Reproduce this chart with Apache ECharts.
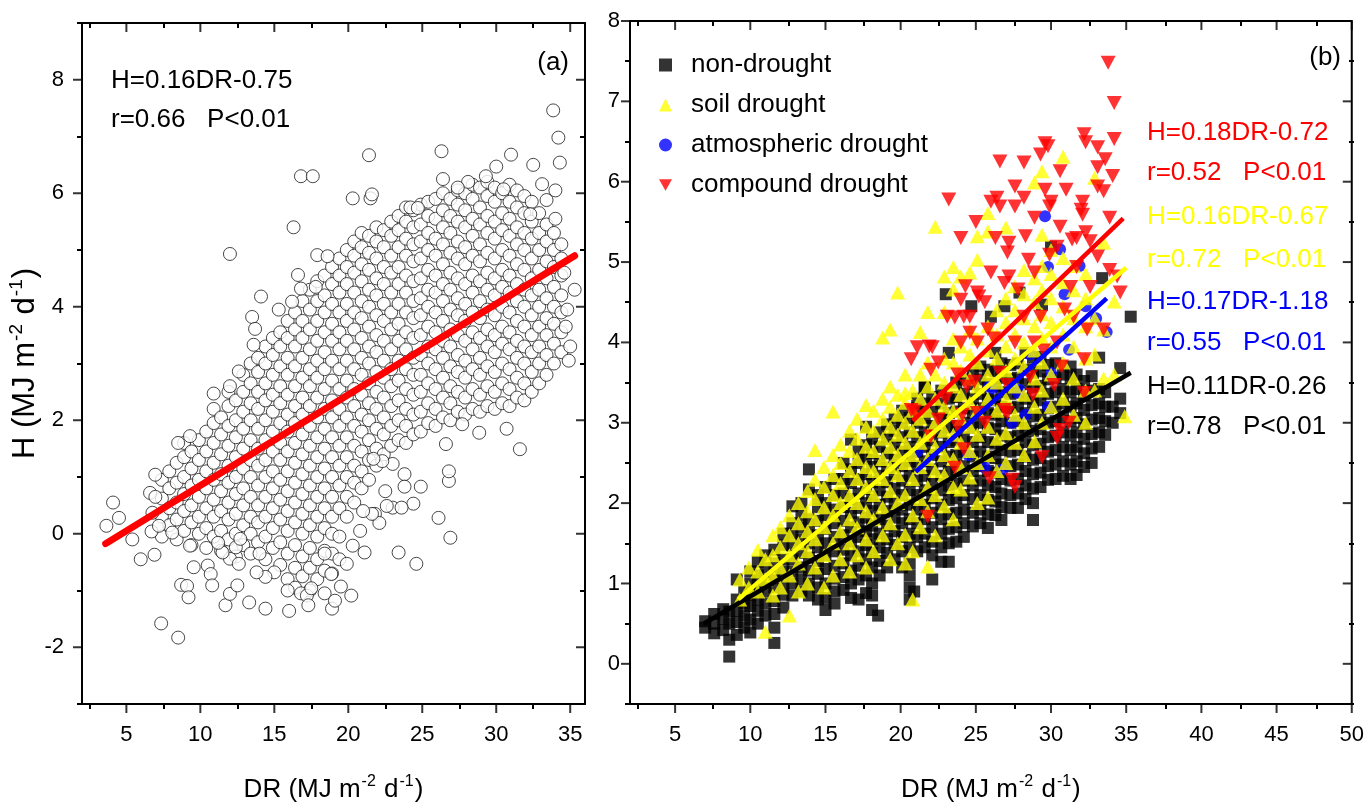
<!DOCTYPE html>
<html><head><meta charset="utf-8">
<script src="https://cdn.jsdelivr.net/npm/echarts@6/dist/echarts.min.js"></script>
<style>html,body{margin:0;padding:0;background:#fff}#c{width:1367px;height:809px}</style>
</head><body><div id="c"></div>
<script>
// ---------- Panel (a): all samples; each row = [DR, H, H, ...] ----------
const leftCols = [
[7.4,-0.05,0.3,0.62,0.95],
[7.9,0.15,0.45,0.8,1.1],
[8.4,-0.1,0.25,0.55,0.9,1.25],
[8.9,0.05,0.4,0.7,1.0,1.35,1.6],
[9.4,-0.2,0.2,0.5,0.85,1.15,1.45],
[9.9,0.0,0.3,0.65,0.95,1.3,1.65],
[10.4,-0.25,0.1,0.45,0.8,1.1,1.45,1.8],
[10.9,-0.05,0.3,0.6,0.95,1.25,1.6,1.95,2.2],
[11.4,-0.3,0.05,0.4,0.75,1.05,1.4,1.75,2.05],
[11.9,-0.1,0.25,0.55,0.9,1.2,1.55,1.9,2.25,2.5],
[12.4,-0.4,0.0,0.35,0.7,1.0,1.35,1.7,2.0,2.35],
[12.9,-0.2,0.15,0.5,0.8,1.15,1.5,1.85,2.15,2.5,2.8],
[13.4,-0.35,0.0,0.3,0.65,1.0,1.3,1.65,2.0,2.3,2.65,3.0],
[13.9,-0.15,0.2,0.5,0.85,1.2,1.5,1.85,2.2,2.5,2.85,3.1],
[14.4,-0.45,-0.05,0.3,0.65,1.0,1.3,1.65,2.0,2.35,2.65,3.0,3.3],
[14.9,-0.25,0.1,0.45,0.8,1.1,1.45,1.8,2.15,2.45,2.8,3.15,3.45],
[15.4,-0.55,-0.15,0.25,0.6,0.95,1.3,1.6,1.95,2.3,2.6,2.95,3.3,3.55],
[15.9,-0.8,-0.35,0.05,0.4,0.75,1.1,1.45,1.8,2.1,2.45,2.8,3.1,3.45,3.75],
[16.4,-0.95,-0.6,-0.2,0.2,0.55,0.9,1.25,1.6,1.95,2.25,2.6,2.95,3.3,3.6,3.9],
[16.9,-0.75,-0.4,0.0,0.35,0.7,1.05,1.4,1.75,2.1,2.4,2.75,3.1,3.45,3.75,4.1],
[17.4,-1.0,-0.6,-0.25,0.15,0.5,0.85,1.2,1.55,1.9,2.25,2.6,2.9,3.25,3.6,3.95,4.3],
[17.9,-0.8,-0.45,-0.05,0.3,0.65,1.0,1.35,1.7,2.05,2.4,2.75,3.05,3.4,3.75,4.1,4.45],
[18.4,-1.05,-0.65,-0.3,0.1,0.45,0.8,1.15,1.5,1.85,2.2,2.55,2.9,3.2,3.55,3.9,4.2,4.55],
[18.9,-0.7,-0.35,0.0,0.3,0.65,1.0,1.35,1.7,2.05,2.35,2.7,3.05,3.4,3.7,4.05,4.4,4.7],
[19.4,-0.45,-0.05,0.45,0.85,1.2,1.55,1.9,2.2,2.55,2.9,3.25,3.55,3.9,4.25,4.55,4.85],
[19.9,0.3,0.65,1.0,1.35,1.7,2.05,2.4,2.7,3.05,3.4,3.75,4.05,4.4,4.7,5.0],
[20.4,0.55,0.9,1.2,1.55,1.9,2.25,2.55,2.9,3.25,3.6,3.9,4.25,4.6,4.9,5.15],
[20.9,0.8,1.1,1.45,1.8,2.1,2.45,2.8,3.1,3.45,3.8,4.1,4.45,4.75,5.05,5.3],
[21.4,0.95,1.3,1.65,2.0,2.3,2.65,3.0,3.3,3.65,4.0,4.3,4.65,4.95,5.25],
[21.9,1.2,1.5,1.85,2.2,2.5,2.85,3.2,3.5,3.85,4.2,4.5,4.85,5.15,5.4],
[22.4,1.4,1.75,2.05,2.4,2.75,3.05,3.4,3.75,4.05,4.4,4.7,5.05,5.35],
[22.9,1.55,1.9,2.25,2.6,2.9,3.25,3.6,3.9,4.25,4.6,4.9,5.25,5.5],
[23.4,1.65,2.0,2.35,2.7,3.05,3.4,3.7,4.05,4.4,4.7,5.05,5.35,5.6],
[23.9,1.6,1.9,2.2,2.55,2.9,3.25,3.55,3.9,4.25,4.55,4.9,5.2,5.5,5.75],
[24.4,1.75,2.1,2.45,2.8,3.1,3.45,3.8,4.1,4.45,4.8,5.1,5.4,5.7],
[24.9,1.8,2.15,2.5,2.8,3.15,3.5,3.85,4.15,4.5,4.85,5.15,5.45,5.8],
[25.4,1.95,2.3,2.65,3.0,3.3,3.65,4.0,4.3,4.65,5.0,5.3,5.6,5.85],
[25.9,1.9,2.2,2.55,2.9,3.25,3.55,3.9,4.25,4.55,4.9,5.2,5.55,5.9],
[26.4,2.05,2.4,2.75,3.1,3.4,3.75,4.1,4.4,4.75,5.1,5.4,5.7,6.0],
[26.9,2.0,2.3,2.6,2.95,3.3,3.6,3.95,4.3,4.6,4.95,5.3,5.6,5.9],
[27.4,2.15,2.5,2.85,3.15,3.5,3.85,4.15,4.5,4.85,5.15,5.5,5.8,6.05],
[27.9,2.1,2.4,2.75,3.05,3.4,3.75,4.05,4.4,4.75,5.05,5.4,5.7,6.0],
[28.4,2.2,2.55,2.9,3.25,3.55,3.9,4.25,4.55,4.9,5.25,5.55,5.9,6.15],
[28.9,2.15,2.45,2.8,3.1,3.45,3.8,4.1,4.45,4.8,5.1,5.45,5.75,6.1],
[29.4,2.25,2.6,2.95,3.3,3.6,3.95,4.3,4.6,4.95,5.3,5.6,5.95,6.2],
[29.9,2.2,2.5,2.85,3.2,3.5,3.85,4.2,4.5,4.85,5.2,5.5,5.85,6.1],
[30.4,2.3,2.65,3.0,3.35,3.65,4.0,4.35,4.65,5.0,5.35,5.65,6.0],
[30.9,2.25,2.55,2.9,3.25,3.55,3.9,4.25,4.55,4.9,5.25,5.55,5.85,6.15],
[31.4,2.4,2.75,3.1,3.4,3.75,4.1,4.4,4.75,5.1,5.4,5.75,6.05],
[31.9,2.35,2.65,3.0,3.3,3.65,4.0,4.3,4.65,5.0,5.3,5.65,5.95],
[32.4,2.5,2.85,3.2,3.5,3.85,4.2,4.5,4.85,5.2,5.5,5.85],
[32.9,2.65,3.0,3.3,3.65,4.0,4.3,4.65,5.0,5.3,5.65],
[33.4,2.8,3.15,3.5,3.8,4.15,4.5,4.8,5.15,5.45],
[33.9,3.0,3.35,3.7,4.0,4.35,4.7,5.0,5.3],
[34.4,3.2,3.55,3.9,4.2,4.55,4.85,5.1]
];
const leftExtra = [
[3.65,0.14],[4.1,0.55],[4.5,0.28],[5.4,-0.1],[5.97,-0.45],[6.9,-0.37],[6.95,1.04],[6.6,0.72],[6.96,0.65],[6.76,0.37],[6.7,0.04],[7.2,0.14],
[8.1,0.02],[8.5,1.6],[9.3,1.72],[9.3,-0.21],[7.35,-1.58],[8.5,-1.83],[8.7,-0.9],[9.1,-0.92],[9.2,-1.12],[9.55,-0.59],[10.5,-0.56],[10.7,-0.71],
[10.8,-0.91],[11.7,-1.26],[12.0,-1.06],[12.5,-0.91],[13.3,-1.21],[14.4,-1.32],[15.0,-0.68],[14.4,-0.76],[13.8,-0.68],[16.0,-1.36],[15.9,-1.0],
[16.8,-1.05],[17.2,-1.09],[17.5,-0.96],[17.3,-1.26],[18.9,-1.32],[19.1,-1.18],[19.5,-0.93],[20.2,-1.09],[19.9,-0.53],[20.8,0.05],[20.3,-0.21],
[21.1,-0.33],[18.85,-0.71],[18.4,-0.35],[23.4,-0.33],[24.6,-0.53],[26.1,0.28],[26.9,-0.07],[26.8,0.93],[26.8,1.1],[24.9,0.83],[24.4,0.53],
[28.85,1.78],[30.7,1.85],[31.6,1.49],[26.6,1.58],[21.8,0.35],[22.1,0.19],[22.5,0.75],[23.0,0.46],[23.8,1.05],[23.8,0.83],[23.6,0.46],[23.0,1.23],
[22.3,1.28],[21.7,1.32],[21.6,0.35],[22.6,0.49],[21.0,0.4],[27.7,1.93],[12.0,-0.44],[12.4,-0.24],[11.5,-0.33],[11.2,-0.16],[12.6,-0.53],[14.0,-0.35],
[12.7,-0.09],[33.85,7.46],[34.2,6.98],[34.3,6.54],[21.4,6.67],[26.3,6.74],[16.8,6.3],[17.6,6.3],[20.3,5.91],[21.5,5.91],[21.6,5.98],[16.3,5.4],
[12.0,4.93],[14.1,4.18],[15.3,3.95],[13.5,3.82],[13.7,3.61],[13.6,3.33],[12.6,2.86],[10.9,2.47],[12.0,2.6],[16.6,4.56],[17.9,4.91],[18.6,4.89],
[17.8,4.35],[16.2,4.09],[16.8,4.32],[31.0,6.68],[32.5,6.5],[30.0,6.47],[35.3,4.3],[34.7,3.65],[34.9,3.05],[34.0,6.05],[34.0,5.55],[29.3,6.3],
[28.1,6.2],[27.4,6.1],[26.4,6.25],[33.1,6.16],[33.4,5.88],[32.3,5.63],[24.2,5.75],[24.7,5.74],[30.5,6.07],[34.6,4.6],[34.8,3.95],[35.0,3.3]
];
const fitAll = {slope: 0.16, intercept: -0.75, from: 3.6, to: 35.3};

// ---------- Panel (b) ----------
const nonDroughtCols = [
[7.0,0.45,0.53],[7.6,0.38,0.5,0.62],[8.2,0.42,0.56,0.68],[8.6,0.09,0.3,0.5,0.65],[9.1,0.36,0.52,0.66,0.8,1.05],
[9.6,0.45,0.6,0.75,0.9],[10.0,0.39,0.55,0.72,0.86,1.0,1.15],[10.5,0.5,0.66,0.8,0.95,1.1,1.27],[11.0,0.6,0.75,0.9,1.05,1.2,1.35],
[11.6,0.26,0.45,0.62,0.78,0.95,1.1,1.25,1.42],[12.2,0.7,0.86,1.0,1.15,1.3,1.48,1.62],[12.8,0.85,1.0,1.15,1.3,1.47,1.62,1.75,1.96],
[13.4,0.9,1.05,1.2,1.38,1.55,1.7,1.85,2.0],[13.9,0.85,1.0,1.16,1.32,1.5,1.65,1.8,2.17,2.42],[14.5,0.8,0.95,1.12,1.28,1.45,1.6,1.78,1.95,2.1],
[15.0,0.67,0.82,1.0,1.18,1.35,1.5,1.68,1.85,2.0,2.2],[15.6,0.75,0.9,1.06,1.22,1.4,1.58,1.75,1.92,2.1,2.3],
[16.2,0.92,1.08,1.25,1.42,1.6,1.78,1.95,2.12,2.3,2.5],[16.7,0.82,1.0,1.16,1.35,1.52,1.7,1.88,2.05,2.25,2.42,2.79],
[17.2,0.8,1.05,1.22,1.4,1.58,1.76,1.94,2.12,2.3,2.5,2.65],[17.7,0.88,1.1,1.3,1.48,1.65,1.82,2.0,2.18,2.36,2.55,2.72,2.95],
[18.1,0.67,0.85,1.0,1.2,1.38,1.55,1.72,1.9,2.08,2.26,2.45,2.62,2.8],[18.6,1.1,1.28,1.45,1.62,1.8,1.98,2.16,2.34,2.52,2.7,2.88],
[19.1,1.2,1.38,1.55,1.72,1.9,2.08,2.26,2.44,2.62,2.8,2.98],[19.6,1.3,1.48,1.65,1.82,2.0,2.18,2.36,2.54,2.72,2.9,3.05],
[20.1,1.2,1.4,1.58,1.75,1.92,2.1,2.28,2.46,2.64,2.82,3.0,3.15],[20.6,0.8,0.95,1.1,1.25,1.45,1.62,1.8,1.98,2.16,2.34,2.52,2.7,2.88,3.06],
[21.1,1.4,1.58,1.75,1.92,2.1,2.28,2.46,2.64,2.82,3.0,3.18,3.3],[21.6,1.45,1.62,1.8,1.98,2.16,2.34,2.52,2.7,2.88,3.06,3.24,3.44],
[22.1,1.05,1.35,1.52,1.7,1.88,2.06,2.24,2.42,2.6,2.78,2.96,3.14,3.32],[22.7,1.27,1.45,1.62,1.8,1.98,2.16,2.34,2.52,2.7,2.88,3.06,3.24,3.4],
[23.2,1.27,1.5,1.68,1.86,2.04,2.22,2.4,2.58,2.76,2.94,3.12,3.3,3.87],[23.7,1.52,1.7,1.88,2.06,2.24,2.42,2.6,2.78,2.96,3.14,3.32,3.5],
[24.2,1.58,1.75,1.92,2.1,2.28,2.46,2.64,2.82,3.0,3.18,3.36,3.54],[24.8,1.71,1.88,2.05,2.22,2.4,2.58,2.76,2.94,3.12,3.3,3.48,3.62],
[25.3,1.75,1.92,2.1,2.28,2.46,2.64,2.82,3.0,3.18,3.36,3.54,3.7],[25.8,1.69,1.86,2.04,2.22,2.4,2.58,2.76,2.94,3.12,3.3,3.48,3.66],
[26.3,1.85,2.02,2.2,2.38,2.56,2.74,2.92,3.1,3.28,3.46,3.64,3.87],[26.7,1.79,1.95,2.12,2.3,2.48,2.66,2.84,3.02,3.2,3.38,3.56,3.74],
[27.3,1.94,2.1,2.28,2.46,2.64,2.82,3.0,3.18,3.36,3.54,3.72],[27.8,1.94,2.12,2.3,2.48,2.66,2.84,3.02,3.2,3.38,3.56,3.74],
[28.3,2.05,2.22,2.4,2.58,2.76,2.94,3.12,3.3,3.48,3.66,3.87],[28.8,1.79,2.0,2.18,2.36,2.54,2.72,2.9,3.08,3.26,3.44,3.62,3.81],
[29.3,2.2,2.38,2.56,2.74,2.92,3.1,3.28,3.46,3.64,3.82],[29.8,2.29,2.46,2.64,2.82,3.0,3.18,3.36,3.54,3.72],
[30.3,2.3,2.48,2.66,2.84,3.02,3.2,3.38,3.56,3.74],[30.8,2.34,2.52,2.7,2.88,3.06,3.24,3.42,3.6],
[31.3,2.3,2.48,2.66,2.84,3.02,3.2,3.38,3.56,3.7],[31.7,2.35,2.52,2.7,2.88,3.06,3.24,3.42,3.6],
[32.2,2.45,2.62,2.8,2.98,3.16,3.34,3.52],[32.7,2.5,2.68,2.86,3.04,3.22,3.4,3.58],
[33.2,2.7,2.88,3.06,3.24,3.42,3.81],[33.6,2.85,3.02,3.2,3.38],[34.1,3.0,3.2],[34.6,3.12,3.3,3.68]
];
const nonDroughtExtra = [[35.3,4.32],[33.4,4.8],[30.0,5.19],[29.4,4.47],[26.9,4.45],[26.0,4.32],[27.9,4.62],[21.6,3.44],[18.5,0.6],[20.9,0.9],[24.7,4.45],[23.0,4.6]];

const soilCols = [
[9.3,0.8,1.05],[9.9,0.95,1.2],[10.5,0.9,1.15,1.42],[11.0,0.4,1.05,1.3],[11.5,0.85,1.1,1.35,1.6],[12.0,0.95,1.2,1.45,1.7],
[12.6,0.6,1.1,1.35,1.6,1.85],[13.2,0.9,1.25,1.5,1.75,2.0],[13.8,1.0,1.4,1.65,1.9,2.15],[14.3,1.2,1.55,1.8,2.05,2.29,2.66],
[14.9,0.95,1.35,1.7,1.95,2.2,2.45],[15.5,1.1,1.5,1.85,2.1,2.35,2.6,3.14],[16.0,1.3,1.65,2.0,2.25,2.5,2.73],
[16.6,1.15,1.5,1.8,2.1,2.4,2.65,2.9],[17.1,1.35,1.7,2.0,2.3,2.55,2.8,3.05],[17.7,1.2,1.55,1.9,2.2,2.45,2.7,2.95,3.22],
[18.2,1.4,1.8,2.1,2.4,2.65,2.9,3.15],[18.8,1.6,1.95,2.3,2.55,2.8,3.05,3.3,4.06],[19.3,1.3,1.75,2.15,2.45,2.7,2.95,3.2,3.45,4.16],
[19.8,1.5,2.0,2.35,2.6,2.85,3.1,3.35,4.62],[20.3,1.25,1.61,2.1,2.5,2.75,3.0,3.25,3.37,3.6],[20.8,0.8,1.4,1.85,2.3,2.6,2.9,3.15,3.4],
[21.3,1.7,2.05,2.45,2.75,3.05,3.3,3.6,4.13],[21.8,1.21,1.9,2.2,2.55,2.85,3.15,3.45,3.75,4.38],[22.3,1.6,2.1,2.4,2.7,3.0,3.3,3.6,5.44],
[22.9,1.96,2.35,2.6,2.9,3.2,3.5,3.8,4.38,4.82],[23.5,1.8,2.2,2.55,2.85,3.15,3.45,3.75,4.05,4.66,4.94],
[24.0,2.17,2.45,2.75,3.05,3.35,3.65,3.95,4.82],[24.6,2.32,2.65,2.95,3.25,3.55,3.85,4.15,4.87],
[25.1,2.0,2.5,2.85,3.15,3.45,3.75,4.05,5.03,5.32],[25.8,2.07,2.6,2.95,3.3,3.6,3.9,4.2,5.38,5.61],[26.4,2.4,2.8,3.15,3.5,3.8,4.1,4.4],
[27.0,2.5,2.87,3.3,3.65,3.95,4.25,4.55,5.43],[27.6,2.75,3.1,3.45,3.8,4.1,4.4,4.7],[28.2,2.6,3.0,3.35,3.7,4.0,4.3,4.6,4.9],
[28.9,2.77,3.2,3.55,3.9,4.2,4.5,4.8,5.99],[29.4,3.0,3.4,3.75,4.05,4.35,4.65,4.95,5.34,6.13],[30.0,3.2,3.6,3.95,4.25,4.55,4.85,5.15],
[30.8,3.3,3.75,4.1,4.45,4.75,5.05,6.31],[31.5,3.1,3.55,3.95,4.3,4.65,4.95],[32.3,3.0,3.4,3.8,4.2,4.55,4.85],
[32.9,3.4,3.85,4.3,6.05],[33.5,3.55,4.16,5.24],[34.2,3.6,4.51],[34.9,3.08]
];

const atmPoints = [[29.6,5.57],[30.6,5.16],[29.8,4.94],[30.9,4.6],[32.3,4.45],[31.2,3.91],[33.7,4.13],[30.0,3.62],[27.9,3.41],[26.1,3.43],
[27.8,3.37],[29.8,3.2],[25.9,3.45],[25.6,2.44],[26.8,2.42],[21.1,2.64],[27.4,3.0],[28.6,3.85],[31.9,4.95],[33.0,4.3],[28.3,3.1],[24.5,2.6]];

const compoundPoints = [
[33.8,7.48],[34.2,6.98],[34.2,6.53],[26.6,6.25],[28.2,6.24],[29.3,6.34],[29.8,6.44],[29.6,6.48],[32.3,6.49],[33.1,6.43],[32.2,6.59],
[30.6,6.13],[33.1,6.18],[34.1,6.07],[33.5,5.88],[29.6,5.9],[26.4,5.8],[26.6,5.69],[26.0,5.75],[27.6,5.69],[28.2,5.8],[30.0,5.75],
[32.1,5.75],[32.0,5.65],[33.9,5.55],[24.0,5.3],[27.2,5.24],[27.1,5.12],[28.3,5.32],[30.6,5.44],[31.7,5.3],[32.6,5.26],[33.1,5.07],
[28.9,4.87],[26.9,4.74],[27.8,4.66],[24.3,4.7],[24.0,4.53],[24.6,4.32],[23.6,4.31],[25.8,4.16],[25.1,4.0],[22.1,3.94],[20.7,3.79],
[22.5,3.75],[23.8,3.6],[24.9,3.51],[34.6,4.62],[30.9,4.41],[31.5,4.32],[29.3,4.32],[32.4,4.16],[32.2,3.79],[30.7,3.7],[28.6,3.57],
[21.8,1.83],[23.6,2.44],[25.9,2.31],[27.6,2.2],[29.4,2.57],[30.4,2.81],[31.2,3.0],[23.8,2.95],[26.9,3.16],[28.8,3.35],[32.2,3.37],
[22.5,3.04],[24.1,3.1],[25.6,3.0],[27.1,3.12],[20.9,3.14],[24.2,4.32],[25.2,4.57],[27.2,4.82],[28.5,5.03],[30.4,5.19],[31.4,5.28],
[32.3,5.37],[29.9,5.69],[33.1,5.94],[33.6,6.28],[27.6,5.94],[23.2,5.78],[24.6,4.12],[21.9,3.95],[23.1,4.32],[24.0,4.0],[26.6,3.62],
[27.6,4.0],[33.5,4.16],[29.9,5.09],[31.7,4.94],[28.2,4.32],[26.0,4.87],[25.1,4.62],[21.1,3.94],[22.0,3.66],[28.9,4.0],[30.4,4.0],
[31.3,4.69],[32.6,4.69],[34.4,4.82],[32.1,5.59],[28.9,5.55],[25.6,4.5],[20.7,3.16],[22.0,2.83],[24.2,2.67],[27.4,2.29],[30.6,2.91],
[25.1,3.12],[24.4,3.45],[27.1,3.47],[30.2,3.47],[26.2,4.05],[29.5,3.9],[23.0,3.3],[26.3,5.3],[25.0,5.5],[31.0,5.9],[33.9,4.9]
];

const fits = [
  {name: 'fit-non',  color: '#000000', slope: 0.11, intercept: -0.26, from: 6.9,  to: 35.3},
  {name: 'fit-soil', color: '#ffff00', slope: 0.16, intercept: -0.67, from: 9.2,  to: 35.0},
  {name: 'fit-atm',  color: '#0000ff', slope: 0.17, intercept: -1.18, from: 21.0, to: 33.7},
  {name: 'fit-comp', color: '#ff0000', slope: 0.18, intercept: -0.72, from: 20.8, to: 34.8}
];

// tick labels / tick positions
const aXMajor = [5,10,15,20,25,30,35];
const aXMinor = [2.5,7.5,12.5,17.5,22.5,27.5,32.5];
const aYMajor = [-2,0,2,4,6,8];
const aYMinor = [-3,-1,1,3,5,7,9];
const bXMajor = [5,10,15,20,25,30,35,40,45,50];
const bXMinor = [2.5,7.5,12.5,17.5,22.5,27.5,32.5,37.5,42.5,47.5];
const bYMajor = [0,1,2,3,4,5,6,7,8];
const bYMinor = [-0.5,0.5,1.5,2.5,3.5,4.5,5.5,6.5,7.5];

// ---------- layout ----------
const PA = {left: 82, top: 23, width: 503, height: 681, x: [2, 36], y: [-3, 9]};
const PB = {left: 630, top: 21, width: 724, height: 683, x: [2, 50], y: [-0.5, 8]};
const rect = (P) => ({left: P.left, top: P.top, width: P.width, height: P.height});

// ---------- build ----------
const FONT = '"Liberation Sans", Arial, Helvetica, sans-serif';
function fromCols(cols) { const out = []; cols.forEach(c => { for (let i = 1; i < c.length; i++) out.push([c[0], c[i]]); }); return out; }
function fitLine(f) { return [[f.from, f.slope * f.from + f.intercept], [f.to, f.slope * f.to + f.intercept]]; }

const xAxes = [], yAxes = [];
const base = (g, min, max) => ({type: 'value', gridIndex: g, min: min, max: max, splitLine: {show: false}, minorTick: {show: false}});
function labelAxis(dim, g, min, max, vals, margin, nameCfg) {
  const arr = dim === 'x' ? xAxes : yAxes;
  arr.push(Object.assign(base(g, min, max), nameCfg || {}, {position: dim === 'x' ? 'bottom' : 'left',
    axisLine: {show: false, onZero: false}, axisTick: {show: false},
    axisLabel: {show: true, customValues: vals, color: '#000', fontSize: 22, fontFamily: FONT, margin: margin}}));
  return arr.length - 1;
}
// minor tick-only axes (twin grids): outward on bottom/left, inward on top/right
function minorAxes(dim, g, P, vals) {
  const arr = dim === 'x' ? xAxes : yAxes;
  const r = dim === 'x' ? P.x : P.y;
  const tk = (inside) => ({show: true, inside: inside, customValues: vals, length: 5, lineStyle: {color: '#000', width: 2}});
  arr.push(Object.assign(base(g, r[0], r[1]), {position: dim === 'x' ? 'bottom' : 'left', axisLine: {show: false, onZero: false}, axisTick: tk(false), axisLabel: {show: false}}));
  arr.push(Object.assign(base(g, r[0], r[1]), {position: dim === 'x' ? 'top' : 'right', axisLine: {show: false, onZero: false}, axisTick: tk(true), axisLabel: {show: false}}));
}
const unitName = (v) => '{a|' + v + ' (MJ m}{s|-2}{a| d}{s|-1}{a|)}';
const nameStyleX = {rich: {a: {fontSize: 26, fontFamily: FONT, color: '#000', lineHeight: 32},
                           s: {fontSize: 16, fontFamily: FONT, color: '#000', verticalAlign: 'top', lineHeight: 32, padding: [0, 1, 0, 1]}}};
const nameStyleY = {rich: {a: {fontSize: 31, fontFamily: FONT, color: '#000', lineHeight: 36},
                           s: {fontSize: 19, fontFamily: FONT, color: '#000', verticalAlign: 'top', lineHeight: 36, padding: [0, 1, 0, 1]}}};

const grids = [
  Object.assign({show: true, borderColor: '#000', borderWidth: 2, backgroundColor: 'transparent'}, rect(PA)),
  Object.assign({show: true, borderColor: '#000', borderWidth: 2, backgroundColor: 'transparent'}, rect(PB)),
  rect(PA), rect(PB)
];
const ax0 = labelAxis('x', 0, PA.x[0], PA.x[1], aXMajor, 20, {name: unitName('DR'), nameLocation: 'middle', nameGap: 70, nameTextStyle: nameStyleX});
const ay0 = labelAxis('y', 0, PA.y[0], PA.y[1], aYMajor, 18, {name: unitName('H'), nameLocation: 'middle', nameGap: 38, nameTextStyle: nameStyleY});
const bx0 = labelAxis('x', 1, PB.x[0], PB.x[1], bXMajor, 20, {name: unitName('DR'), nameLocation: 'middle', nameGap: 70, nameTextStyle: nameStyleX});
const by0 = labelAxis('y', 1, PB.y[0], PB.y[1], bYMajor, 10, null);
minorAxes('x', 2, PA, aXMinor); minorAxes('y', 2, PA, aYMinor);
minorAxes('x', 3, PB, bXMinor); minorAxes('y', 3, PB, bYMinor);

// major tick marks placed on the frame edges through the panel scales
function majorMarks(P, xi, yi, xVals, yVals) {
  const mk = (data, size, offset) => ({type: 'scatter', name: 'tick', xAxisIndex: xi, yAxisIndex: yi, data: data, symbol: 'rect',
    symbolSize: size, symbolOffset: offset, itemStyle: {color: '#000'}, clip: false, silent: true, z: 6, progressive: 0, legendHoverLink: false});
  return [
    mk(xVals.map(v => [v, P.y[0]]), [2, 9], [0, 4.5]),     // bottom, outward
    mk(xVals.map(v => [v, P.y[1]]), [2, 9], [0, 4.5]),     // top, inward
    mk(yVals.map(v => [P.x[0], v]), [9, 2], [-4.5, 0]),    // left, outward
    mk(yVals.map(v => [P.x[1], v]), [9, 2], [-4.5, 0])     // right, inward
  ];
}

const invTri = 'path://M0,0L10,0L5,9Z';
const series = [
  {type: 'scatter', name: 'all', xAxisIndex: ax0, yAxisIndex: ay0, data: fromCols(leftCols).concat(leftExtra),
   symbol: 'circle', symbolSize: 13, itemStyle: {color: '#ffffff', borderColor: '#1a1a1a', borderWidth: 1}, progressive: 0, z: 2, silent: true},
  {type: 'line', name: 'fit-all', xAxisIndex: ax0, yAxisIndex: ay0, data: fitLine(fitAll), symbol: 'none',
   lineStyle: {color: '#ff0000', width: 7, cap: 'round'}, z: 5, silent: true},
  {type: 'scatter', name: 'non-drought', xAxisIndex: bx0, yAxisIndex: by0, data: fromCols(nonDroughtCols).concat(nonDroughtExtra),
   symbol: 'rect', symbolSize: 12, itemStyle: {color: '#000000'}, progressive: 0, z: 2, silent: true},
  {type: 'scatter', name: 'atmospheric drought', xAxisIndex: bx0, yAxisIndex: by0, data: atmPoints,
   symbol: 'circle', symbolSize: 12, itemStyle: {color: '#0000ff'}, progressive: 0, z: 2, silent: true},
  {type: 'scatter', name: 'soil drought', xAxisIndex: bx0, yAxisIndex: by0, data: fromCols(soilCols),
   symbol: 'triangle', symbolSize: [15, 14], itemStyle: {color: '#ffff00'}, progressive: 0, z: 2, silent: true},
  {type: 'scatter', name: 'compound drought', xAxisIndex: bx0, yAxisIndex: by0, data: compoundPoints,
   symbol: invTri, symbolSize: [15, 14], itemStyle: {color: '#ff0000'}, progressive: 0, z: 2, silent: true}
];
fits.forEach(f => series.push({type: 'line', name: f.name, xAxisIndex: bx0, yAxisIndex: by0, data: fitLine(f), symbol: 'none',
  lineStyle: {color: f.color, width: 4.5}, z: 5, silent: true}));
majorMarks(PA, ax0, ay0, aXMajor, aYMajor).forEach(s => series.push(s));
majorMarks(PB, bx0, by0, bXMajor, bYMajor).forEach(s => series.push(s));

function txt(x, y, s, color, align) {
  return {type: 'text', x: x, y: y, z: 20, silent: true,
    style: {text: s, fill: color, font: '26px ' + FONT, textAlign: align || 'left', textVerticalAlign: 'middle', align: align || 'left', verticalAlign: 'middle'}};
}
const graphics = [
  txt(111, 81, 'H=0.16DR-0.75', '#000'),
  txt(111, 120, 'r=0.66   P<0.01', '#000'),
  txt(569, 63, '(a)', '#000', 'right'),
  txt(1341, 58, '(b)', '#000', 'right'),
  txt(1147, 133, 'H=0.18DR-0.72', '#ff0000'),
  txt(1147, 173, 'r=0.52   P<0.01', '#ff0000'),
  txt(1147, 217, 'H=0.16DR-0.67', '#ffff00'),
  txt(1147, 260, 'r=0.72   P<0.01', '#ffff00'),
  txt(1147, 302, 'H=0.17DR-1.18', '#0000ff'),
  txt(1147, 343, 'r=0.55   P<0.01', '#0000ff'),
  txt(1147, 387, 'H=0.11DR-0.26', '#000'),
  txt(1147, 427, 'r=0.78   P<0.01', '#000')
];

const chart = echarts.init(document.getElementById('c'), null, {renderer: 'canvas'});
chart.setOption({
  animation: false,
  backgroundColor: '#ffffff',
  grid: grids,
  xAxis: xAxes,
  yAxis: yAxes,
  legend: {
    orient: 'vertical', left: 654, top: 47, itemWidth: 13, itemHeight: 13, itemGap: 14, selectedMode: false,
    textStyle: {fontSize: 26, fontFamily: FONT, color: '#000', lineHeight: 26, padding: [0, 0, 0, 14]},
    data: [{name: 'non-drought', icon: 'rect'}, {name: 'soil drought', icon: 'triangle'},
           {name: 'atmospheric drought', icon: 'circle'}, {name: 'compound drought', icon: invTri}]
  },
  graphic: graphics,
  series: series
});
</script></body></html>
